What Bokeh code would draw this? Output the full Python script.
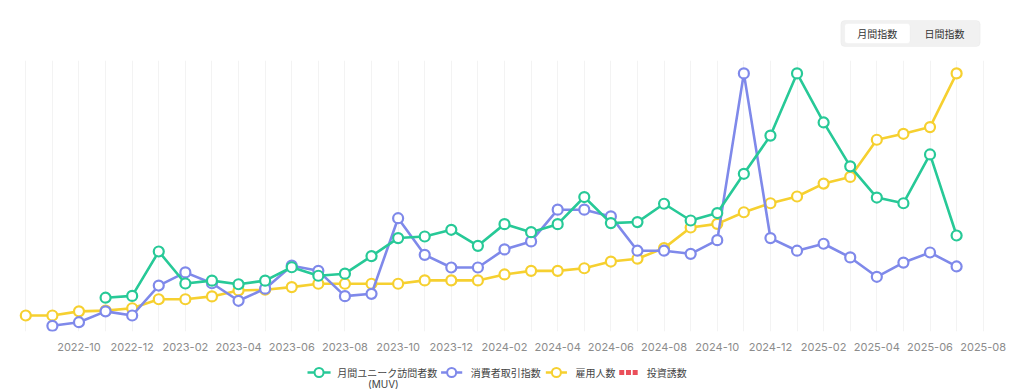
from bokeh.plotting import figure
from bokeh.models import Range1d, FixedTicker, BoxAnnotation, ColumnDataSource
from bokeh.layouts import column
from bokeh.core.properties import value
from bokeh.embed import file_html
from bokeh.resources import INLINE

# ---------------- data ----------------
months = ["2022-08", "2022-09", "2022-10", "2022-11", "2022-12",
          "2023-01", "2023-02", "2023-03", "2023-04", "2023-05", "2023-06",
          "2023-07", "2023-08", "2023-09", "2023-10", "2023-11", "2023-12",
          "2024-01", "2024-02", "2024-03", "2024-04", "2024-05", "2024-06",
          "2024-07", "2024-08", "2024-09", "2024-10", "2024-11", "2024-12",
          "2025-01", "2025-02", "2025-03", "2025-04", "2025-05", "2025-06",
          "2025-07"]
axis_end = "2025-08"

# 月間ユニーク訪問者数 (MUV) - relative index, max = 100
muv = [None, None, None, 13.1, 13.8, 31.0, 18.6, 19.7, 18.3, 19.7, 24.9,
       21.6, 22.4, 29.2, 36.2, 36.8, 39.4, 33.2, 41.6, 38.5, 41.6, 52.1,
       42.0, 42.4, 49.5, 43.0, 45.9, 61.1, 75.9, 100.0, 81.0, 64.0, 51.9,
       49.7, 68.6, 37.2]
# 消費者取引指数
consumer = [None, 2.2, 3.6, 7.8, 6.2, 17.8, 22.9, 18.7, 11.9, 16.6, 25.5,
            23.5, 13.7, 14.6, 43.9, 29.7, 24.8, 24.8, 31.8, 34.9, 47.2,
            47.2, 44.6, 31.3, 31.3, 30.1, 35.4, 100.0, 36.2, 31.3, 34.0,
            28.7, 21.2, 26.7, 30.6, 25.2]
# 雇用人数
employees = [6.2, 6.2, 7.8, 8.1, 9.0, 12.5, 12.5, 13.6, 15.9, 16.2, 17.2,
             18.5, 18.5, 18.5, 18.5, 19.8, 19.8, 19.8, 22.1, 23.5, 23.5,
             24.5, 27.1, 28.2, 32.3, 40.3, 41.7, 46.2, 49.7, 52.3, 57.3,
             59.9, 74.3, 76.6, 79.2, 100.0]

tick_labels = ["2022-10", "2022-12", "2023-02", "2023-04", "2023-06",
               "2023-08", "2023-10", "2023-12", "2024-02", "2024-04",
               "2024-06", "2024-08", "2024-10", "2024-12", "2025-02",
               "2025-04", "2025-06", "2025-08"]

series_names = ["月間ユニーク訪問者数", "消費者取引指数", "雇用人数", "投資誘数"]
series_colors = ["#27c997", "#7f89ea", "#f6d030", "#ea4f5a"]
toggle_labels = ["月間指数", "日間指数"]

CJK = "Noto Sans CJK JP"

all_months = months + [axis_end]
idx = list(range(len(months)))


def nan(v):
    return [float("nan") if x is None else x for x in v]


W = 1024

# ---------------- top strip (toggle) ----------------
top = figure(width=W, height=55, x_range=Range1d(0, W), y_range=Range1d(55, 0),
             output_backend="svg", toolbar_location=None,
             x_axis_location=None, y_axis_location=None,
             min_border=0, outline_line_color=None)
top.grid.visible = False
top.add_layout(BoxAnnotation(left=862, right=1007, top=20, bottom=46, level="underlay",
                             fill_color="#f1f1f1", fill_alpha=1.0,
                             line_color="#e4e4e4", line_width=1, border_radius=4))
top.add_layout(BoxAnnotation(left=866, right=934, top=23, bottom=43, level="underlay",
                             fill_color="#ffffff", fill_alpha=1.0,
                             line_color="#ebebeb", line_width=1, border_radius=3))
top.text(x=[900, 970], y=[33, 33], text=toggle_labels,
         text_font=value(CJK), text_font_size="10px", text_color="#333333",
         text_align="center", text_baseline="middle")

# ---------------- main chart ----------------
p = figure(width=W, height=300, x_range=Range1d(-0.5, 36.5), y_range=Range1d(0, 105),
           output_backend="svg", toolbar_location=None, y_axis_location=None,
           min_border_left=12, min_border_right=28, min_border_top=5, min_border_bottom=24,
           outline_line_color=None)
p.ygrid.visible = False
p.xgrid.ticker = FixedTicker(ticks=list(range(len(all_months))))
p.xgrid.grid_line_color = "#f3f3f3"
p.xgrid.grid_line_width = 1

ax = p.xaxis[0]
tick_pos = [all_months.index(t) for t in tick_labels]
ax.ticker = FixedTicker(ticks=tick_pos)
ax.major_label_overrides = {i: t for i, t in zip(tick_pos, tick_labels)}
ax.axis_line_color = None
ax.major_tick_line_color = None
ax.minor_tick_line_color = None
ax.major_label_standoff = 5
ax.major_label_text_font = "Inter"
ax.major_label_text_font_size = "11px"
ax.major_label_text_color = "#8c8c8c"

for vals, col in [(employees, series_colors[2]), (consumer, series_colors[1]), (muv, series_colors[0])]:
    src = ColumnDataSource(dict(x=idx, y=nan(vals)))
    p.line("x", "y", source=src, line_color=col, line_width=2.6)
    p.scatter("x", "y", source=src, size=10, fill_color="white", line_color=col, line_width=2.2)

# ---------------- legend strip ----------------
leg = figure(width=W, height=36, x_range=Range1d(0, W), y_range=Range1d(36, 0),
             output_backend="svg", toolbar_location=None,
             x_axis_location=None, y_axis_location=None,
             min_border=0, outline_line_color=None)
leg.grid.visible = False
row_y = 17
icons = [(307, 331), (446, 468), (555, 577)]
for (x0, x1), col in zip(icons, series_colors[:3]):
    leg.line([x0, x1], [row_y, row_y], line_color=col, line_width=2.6)
    leg.scatter([(x0 + x1) / 2], [row_y], size=9, fill_color="white", line_color=col, line_width=2)
leg.scatter([634, 641, 648], [row_y] * 3, marker="square", size=5,
            fill_color=series_colors[3], line_color=None)
leg.text(x=[338, 477, 586, 660], y=[row_y] * 4, text=series_names,
         text_font=value(CJK), text_font_size="10px", text_color="#444444",
         text_align="left", text_baseline="middle")
leg.text(x=[386], y=[28], text=["(MUV)"],
         text_font=value("Inter"), text_font_size="10px", text_color="#444444",
         text_align="center", text_baseline="middle")

layout = column(top, p, leg, spacing=0)
open("out.html", "w").write(file_html(layout, INLINE))
